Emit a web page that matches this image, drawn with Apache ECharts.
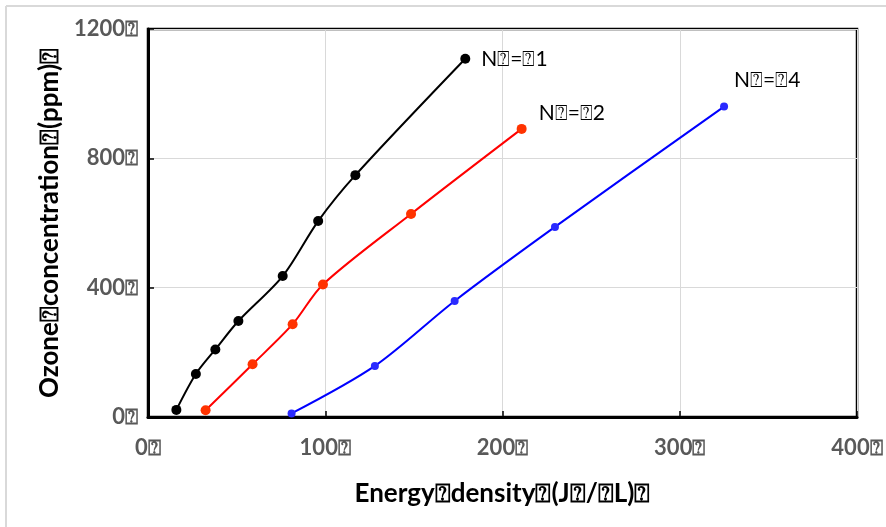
<!DOCTYPE html>
<html>
<head>
<meta charset="utf-8">
<script src="https://cdn.jsdelivr.net/npm/echarts@6/dist/echarts.min.js"></script>
<style>html,body{margin:0;padding:0;background:#fff}#c{width:886px;height:527px}</style>
</head>
<body>
<div id="c"></div>
<script>
const BOX = '\u2370';
const seriesNames = ['N' + BOX + '=' + BOX + '1', 'N' + BOX + '=' + BOX + '2', 'N' + BOX + '=' + BOX + '4'];
const energyN1 = [16, 27, 38, 51, 76, 96, 117, 179];
const ozoneN1 = [22, 133, 209, 297, 436, 606, 748, 1108];
const energyN2 = [32.5, 59, 81.6, 98.7, 148.4, 210.8];
const ozoneN2 = [21, 163, 287, 410, 628, 891];
const energyN4 = [81, 128, 173, 229.6, 325];
const ozoneN4 = [11, 158, 359, 588, 960];
const xTicks = [0, 100, 200, 300, 400];
const yTicks = [0, 400, 800, 1200];
const xTitle = 'Energy' + BOX + 'density' + BOX + '(J' + BOX + '/' + BOX + 'L)' + BOX;
const yTitle = 'Ozone' + BOX + 'concentration' + BOX + '(ppm)' + BOX;

const FONT = 'Lato';
function build(xs, ys, name, offset) {
  return xs.map((x, i) => {
    const item = { value: [x, ys[i]] };
    if (i === xs.length - 1) {
      item.label = { show: true, formatter: name, position: 'right', offset: offset,
        color: '#000', fontSize: 21, fontFamily: FONT };
    }
    return item;
  });
}
const chart = echarts.init(document.getElementById('c'), null, { renderer: 'canvas' });
chart.setOption({
  animation: false,
  backgroundColor: '#fff',
  graphic: [
    { type: 'line', shape: { x1: 6, y1: 6, x2: 886, y2: 6 }, style: { stroke: '#d9d9d9', lineWidth: 2 } },
    { type: 'line', shape: { x1: 6, y1: 6, x2: 6, y2: 527 }, style: { stroke: '#d9d9d9', lineWidth: 2 } }
  ],
  grid: { left: 148, right: 29, top: 29, bottom: 110, show: true, borderColor: '#000', borderWidth: 2.5, backgroundColor: 'transparent' },
  xAxis: {
    type: 'value', min: 0, max: 400, interval: 100,
    name: xTitle, nameLocation: 'middle', nameGap: 64,
    nameTextStyle: { fontSize: 26, fontWeight: 'bold', color: '#000', fontFamily: FONT },
    axisLine: { show: true, lineStyle: { color: '#000', width: 3 } },
    axisTick: { show: true, inside: true, length: 6, lineStyle: { color: '#000', width: 1.5 } },
    axisLabel: { color: '#595959', fontSize: 22, fontWeight: 'bold', fontFamily: FONT, margin: 20,
      formatter: v => xTicks.includes(v) ? v + BOX : '' },
    splitLine: { show: true, lineStyle: { color: '#d9d9d9', width: 1 } }
  },
  yAxis: {
    type: 'value', min: 0, max: 1200, interval: 400,
    name: yTitle, nameLocation: 'middle', nameGap: 84, nameRotate: 90,
    nameTextStyle: { fontSize: 26, fontWeight: 'bold', color: '#000', fontFamily: FONT },
    axisLine: { show: true, lineStyle: { color: '#000', width: 3 } },
    axisTick: { show: true, inside: true, length: 6, lineStyle: { color: '#000', width: 1.5 } },
    axisLabel: { color: '#595959', fontSize: 22, fontWeight: 'bold', fontFamily: FONT, margin: 10,
      formatter: v => yTicks.includes(v) ? v + BOX : '' },
    splitLine: { show: true, lineStyle: { color: '#d9d9d9', width: 1 } }
  },
  series: [
    { type: 'line', name: seriesNames[0], data: build(energyN1, ozoneN1, seriesNames[0], [6, 0]),
      smooth: 0.3, symbol: 'circle', symbolSize: 10,
      lineStyle: { color: '#000', width: 2 }, itemStyle: { color: '#000' } },
    { type: 'line', name: seriesNames[1], data: build(energyN2, ozoneN2, seriesNames[1], [7, -16]),
      smooth: 0.3, symbol: 'circle', symbolSize: 10,
      lineStyle: { color: '#ff0000', width: 2 }, itemStyle: { color: '#ff3300' } },
    { type: 'line', name: seriesNames[2], data: build(energyN4, ozoneN4, seriesNames[2], [1, -26]),
      smooth: 0.3, symbol: 'circle', symbolSize: 8,
      lineStyle: { color: '#0000ff', width: 2 }, itemStyle: { color: '#2a2aff' } }
  ]
});
</script>
</body>
</html>
